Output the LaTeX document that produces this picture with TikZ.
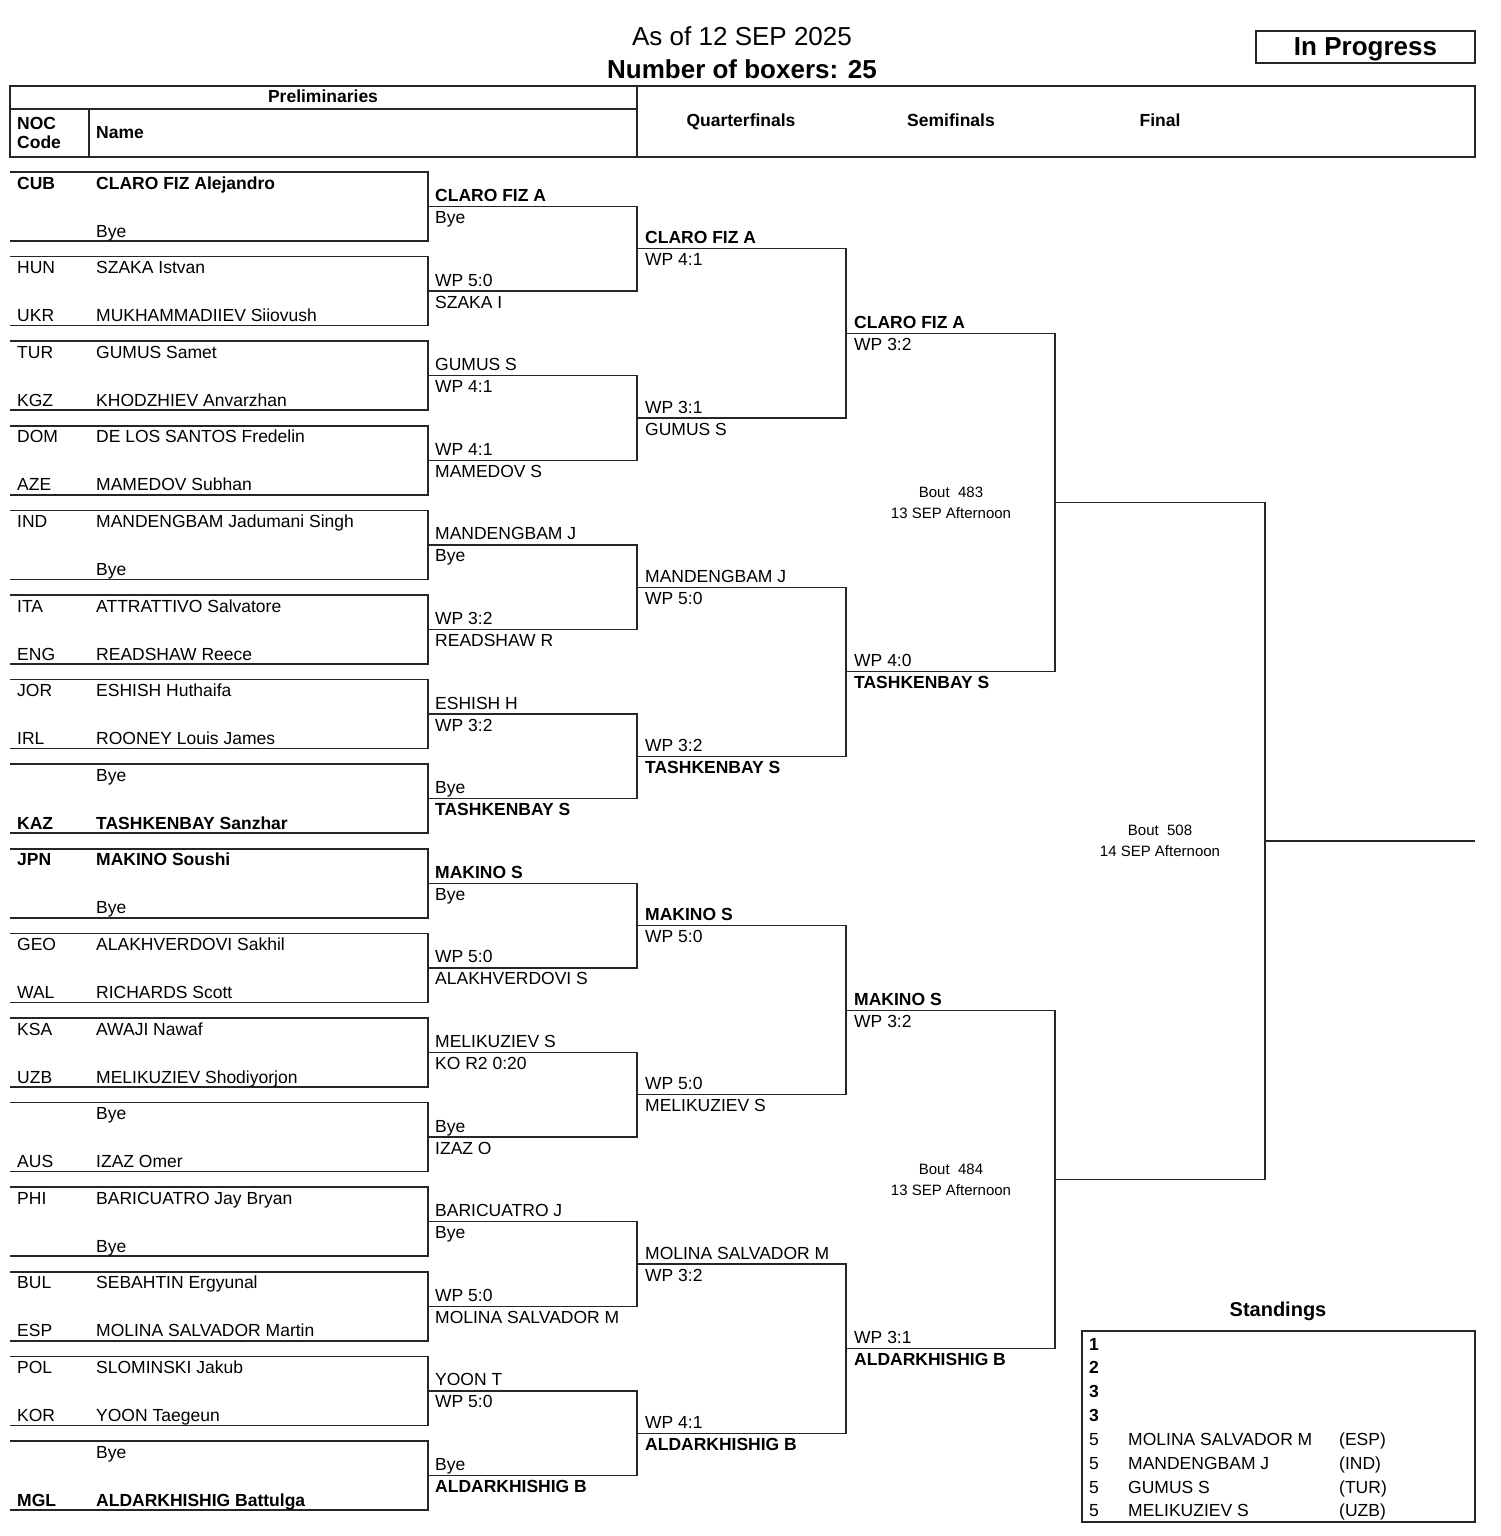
\documentclass[tikz,border=0pt]{standalone}
\usepackage{fontspec}
\setmainfont{Liberation Sans}
\usetikzlibrary{calc}
\begin{document}
\begin{tikzpicture}[x=1pt,y=-1pt,
  lbl/.style={anchor=base west,inner sep=0pt,font=\fontsize{17.5}{20}\selectfont},
  clbl/.style={anchor=base,inner sep=0pt,font=\fontsize{17.5}{20}\selectfont\bfseries},
  bout/.style={anchor=base,inner sep=0pt,font=\fontsize{15}{17}\selectfont},
  boxline/.style={line width=1.6pt,black!85},
  br/.style={line width=1.3pt,black!85},
  hd/.style={line width=1.3pt,black!85}]
\useasboundingbox (0,0) rectangle (1500,1536);
% title
\node[anchor=base,inner sep=0pt,font=\fontsize{26}{30}\selectfont] (t1) at (742,46) {As of 12 SEP 2025};
\node[anchor=base,inner sep=0pt,font=\fontsize{26}{30}\selectfont\bfseries] (t2) at (742,79) {Number of boxers: 25};
\draw[hd] (1256,31) rectangle (1475,63);
\node[anchor=base,inner sep=0pt,font=\fontsize{26}{30}\selectfont\bfseries] (prog) at (1365.5,56) {In Progress};
% header table
\draw[hd] (10,86) rectangle (1475,157);
\draw[hd] (10,109) -- (637,109);
\draw[hd] (637,86) -- (637,157);
\draw[hd] (89,109) -- (89,157);
\node[clbl] (hpre) at (323,103) {Preliminaries};
\node[lbl,font=\fontsize{17.5}{20}\selectfont\bfseries] (hnoc) at (17,129) {NOC};
\node[lbl,font=\fontsize{17.5}{20}\selectfont\bfseries] (hcode) at (17,148) {Code};
\node[lbl,font=\fontsize{17.5}{20}\selectfont\bfseries] (hname) at (96,139) {Name};
\node[clbl] (hqf) at (741,127) {Quarterfinals};
\node[clbl] (hsf) at (951,127) {Semifinals};
\node[clbl] (hf) at (1160,127) {Final};
% preliminary boxes
\foreach \i/\na/\ma/\nb/\mb in {
 1/\textbf{CUB}/\textbf{CLARO FIZ Alejandro}/{}/Bye,
 2/HUN/SZAKA Istvan/UKR/MUKHAMMADIIEV Siiovush,
 3/TUR/GUMUS Samet/KGZ/KHODZHIEV Anvarzhan,
 4/DOM/DE LOS SANTOS Fredelin/AZE/MAMEDOV Subhan,
 5/IND/MANDENGBAM Jadumani Singh/{}/Bye,
 6/ITA/ATTRATTIVO Salvatore/ENG/READSHAW Reece,
 7/JOR/ESHISH Huthaifa/IRL/ROONEY Louis James,
 8/{}/Bye/\textbf{KAZ}/\textbf{TASHKENBAY Sanzhar},
 9/\textbf{JPN}/\textbf{MAKINO Soushi}/{}/Bye,
 10/GEO/ALAKHVERDOVI Sakhil/WAL/RICHARDS Scott,
 11/KSA/AWAJI Nawaf/UZB/MELIKUZIEV Shodiyorjon,
 12/{}/Bye/AUS/IZAZ Omer,
 13/PHI/BARICUATRO Jay Bryan/{}/Bye,
 14/BUL/SEBAHTIN Ergyunal/ESP/MOLINA SALVADOR Martin,
 15/POL/SLOMINSKI Jakub/KOR/YOON Taegeun,
 16/{}/Bye/\textbf{MGL}/\textbf{ALDARKHISHIG Battulga}}{
  \pgfmathsetmacro\t{172+84.6*(\i-1)}
  \coordinate (blt\i) at (10,\t);
  \coordinate (brt\i) at (428,\t);
  \coordinate (brb\i) at (428,\t+69);
  \coordinate (blb\i) at (10,\t+69);
  \coordinate (p0-\i) at (428,\t+34.5);
  \draw[boxline] (blt\i) -- (brt\i) -- (brb\i) -- (blb\i);
  \node[lbl] (na\i) at (17,\t+17) {\na};
  \node[lbl] (ma\i) at (96,\t+17) {\ma};
  \node[lbl] (nb\i) at (17,\t+65) {\nb};
  \node[lbl] (mb\i) at (96,\t+65) {\mb};
}
% vertical positions of bracket columns
\coordinate (v1) at (637,0);
\coordinate (v2) at (846,0);
\coordinate (v3) at (1055,0);
\coordinate (v4) at (1265,0);
\coordinate (v5) at (1475,0);
% brackets
\foreach \r/\n in {1/8,2/4,3/2,4/1}{
  \pgfmathtruncatemacro\q{\r-1}
  \foreach \j in {1,...,\n}{
    \pgfmathtruncatemacro\a{2*\j-1}
    \pgfmathtruncatemacro\b{2*\j}
    \draw[br] (p\q-\a) -- (p\q-\a -| v\r) coordinate (e\r-\a)
              -- (p\q-\b -| v\r) coordinate (e\r-\b) -- (p\q-\b);
    \coordinate (p\r-\j) at ($(e\r-\a)!0.5!(e\r-\b)$);
  }
}
\draw[br] (p4-1) -- (p4-1 -| v5) coordinate (fin);
% round 1 labels
\foreach \k/\up/\dn in {
 1/\textbf{CLARO FIZ A}/Bye,
 2/WP 5:0/SZAKA I,
 3/GUMUS S/WP 4:1,
 4/WP 4:1/MAMEDOV S,
 5/MANDENGBAM J/Bye,
 6/WP 3:2/READSHAW R,
 7/ESHISH H/WP 3:2,
 8/Bye/\textbf{TASHKENBAY S},
 9/\textbf{MAKINO S}/Bye,
 10/WP 5:0/ALAKHVERDOVI S,
 11/MELIKUZIEV S/KO R2 0:20,
 12/Bye/IZAZ O,
 13/BARICUATRO J/Bye,
 14/WP 5:0/MOLINA SALVADOR M,
 15/YOON T/WP 5:0,
 16/Bye/\textbf{ALDARKHISHIG B}}{
  \node[lbl] (ua0-\k) at ([xshift=7pt,yshift=5pt]p0-\k) {\up};
  \node[lbl] (da0-\k) at ([xshift=7pt,yshift=-17pt]p0-\k) {\dn};
}
% round 2 labels
\foreach \k/\up/\dn in {
 1/\textbf{CLARO FIZ A}/WP 4:1,
 2/WP 3:1/GUMUS S,
 3/MANDENGBAM J/WP 5:0,
 4/WP 3:2/\textbf{TASHKENBAY S},
 5/\textbf{MAKINO S}/WP 5:0,
 6/WP 5:0/MELIKUZIEV S,
 7/MOLINA SALVADOR M/WP 3:2,
 8/WP 4:1/\textbf{ALDARKHISHIG B}}{
  \node[lbl] (ua1-\k) at ([xshift=8pt,yshift=5pt]p1-\k) {\up};
  \node[lbl] (da1-\k) at ([xshift=8pt,yshift=-17pt]p1-\k) {\dn};
}
% round 3 labels
\foreach \k/\up/\dn in {
 1/\textbf{CLARO FIZ A}/WP 3:2,
 2/WP 4:0/\textbf{TASHKENBAY S},
 3/\textbf{MAKINO S}/WP 3:2,
 4/WP 3:1/\textbf{ALDARKHISHIG B}}{
  \node[lbl] (ua2-\k) at ([xshift=8pt,yshift=5pt]p2-\k) {\up};
  \node[lbl] (da2-\k) at ([xshift=8pt,yshift=-17pt]p2-\k) {\dn};
}
% bout info
\node[bout] (b483a) at (951,497) {Bout\ \ 483};
\node[bout] (b483b) at (951,518) {13 SEP Afternoon};
\node[bout] (b484a) at (951,1174) {Bout\ \ 484};
\node[bout] (b484b) at (951,1195) {13 SEP Afternoon};
\node[bout] (b508a) at (1160,835) {Bout\ \ 508};
\node[bout] (b508b) at (1160,856) {14 SEP Afternoon};
% standings
\node[anchor=base,inner sep=0pt,font=\fontsize{20}{24}\selectfont\bfseries] (stand) at (1278,1316) {Standings};
\draw[boxline] (1082,1331) rectangle (1475,1522);
\foreach \k/\rk/\nm/\nc in {
 1/\textbf{1}/{}/{},
 2/\textbf{2}/{}/{},
 3/\textbf{3}/{}/{},
 4/\textbf{3}/{}/{},
 5/5/MOLINA SALVADOR M/(ESP),
 6/5/MANDENGBAM J/(IND),
 7/5/GUMUS S/(TUR),
 8/5/MELIKUZIEV S/(UZB)}{
  \pgfmathsetmacro\yy{1350+23.85*(\k-1)}
  \node[lbl] (sr\k) at (1089,\yy) {\rk};
  \node[lbl] (sn\k) at (1128,\yy) {\nm};
  \node[lbl] (sc\k) at (1339,\yy) {\nc};
}
\end{tikzpicture}
\end{document}
